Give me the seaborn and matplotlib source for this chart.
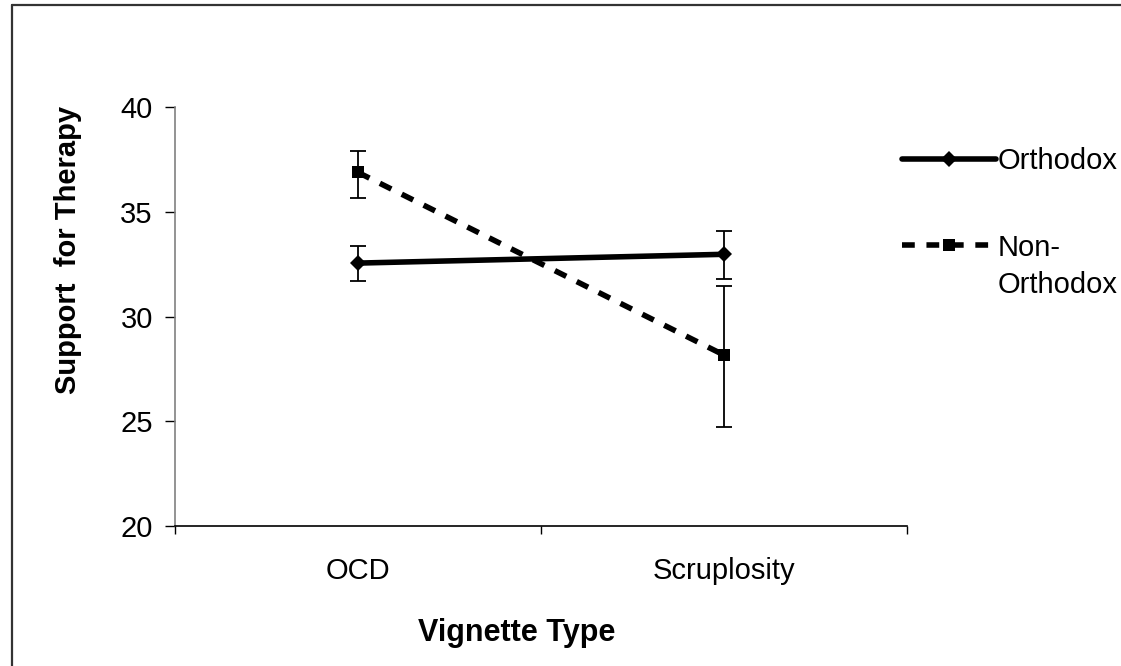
import matplotlib
matplotlib.use("Agg")
import matplotlib.pyplot as plt
from matplotlib.lines import Line2D
import seaborn as sns
import pandas as pd

# ---- data ----
vignettes = ["OCD", "Scruplosity"]
groups = ["Orthodox", "Non-Orthodox"]
orthodox_mean = [32.55, 32.97]
orthodox_low = [31.70, 31.78]
orthodox_high = [33.37, 34.10]
nonorth_mean = [36.88, 28.16]
nonorth_low = [35.68, 24.72]
nonorth_high = [37.88, 31.47]
y_ticks = [20, 25, 30, 35, 40]

df = pd.DataFrame({
    "Vignette": vignettes * 2,
    "Group": [groups[0]] * 2 + [groups[1]] * 2,
    "Support": orthodox_mean + nonorth_mean,
})

sns.set_style("white")
plt.rcParams["font.family"] = ["Liberation Sans", "DejaVu Sans"]
plt.rcParams["text.color"] = "black"
plt.rcParams["axes.labelcolor"] = "black"
plt.rcParams["xtick.color"] = "black"
plt.rcParams["ytick.color"] = "black"

FS = 21

fig = plt.figure(figsize=(11.21, 6.66), dpi=100)
ax = fig.add_axes([0.1561, 0.2102, 0.6530, 0.6291])

sns.lineplot(
    data=df, x="Vignette", y="Support", hue="Group", style="Group",
    palette={"Orthodox": "black", "Non-Orthodox": "black"},
    markers={"Orthodox": "D", "Non-Orthodox": "s"},
    dashes={"Orthodox": "", "Non-Orthodox": (2.3, 2.1)},
    linewidth=4, markersize=8, markeredgewidth=0,
    ax=ax, legend=False, sort=False,
)

# error bars
for mean, low, high in [(orthodox_mean, orthodox_low, orthodox_high),
                        (nonorth_mean, nonorth_low, nonorth_high)]:
    yerr = [[m - l for m, l in zip(mean, low)], [h - m for m, h in zip(mean, high)]]
    ax.errorbar(vignettes, mean, yerr=yerr, fmt="none", ecolor="black",
                elinewidth=1.3, capsize=6, capthick=1.3, zorder=1)

ax.set_xlim(-0.5, 1.5)
ax.set_ylim(20, 40)
ax.set_yticks(y_ticks)
ax.set_xticks([0, 1])
ax.set_xticks([-0.5, 0.5, 1.5], minor=True)
ax.tick_params(axis="x", which="major", length=0, pad=22, labelsize=FS)
ax.tick_params(axis="x", which="minor", length=6, width=1, direction="out", bottom=True)
ax.tick_params(axis="y", which="major", length=7, width=1,
               direction="out", pad=9, labelsize=FS, left=True)

for s in ["top", "right"]:
    ax.spines[s].set_visible(False)
ax.spines["left"].set_color("#808080")
ax.spines["left"].set_linewidth(1.2)
ax.spines["bottom"].set_color("black")
ax.spines["bottom"].set_linewidth(1.2)

ax.set_ylabel("Support  for Therapy", fontsize=FS, fontweight="bold")
ax.yaxis.set_label_coords(-0.127, 0.659)
ax.set_xlabel("Vignette Type", fontsize=22, fontweight="bold")
ax.xaxis.set_label_coords(0.467, -0.22)

# legend
handles = [
    Line2D([], [], color="black", lw=4, marker="D", markersize=8, markeredgewidth=0),
    Line2D([], [], color="black", lw=4, marker="s", markersize=9, markeredgewidth=0,
           dashes=(2.3, 2.1)),
]
fig.legend(handles, ["Orthodox", "Non-"], loc="upper left",
           bbox_to_anchor=(0.805, 0.779), frameon=False, fontsize=FS,
           handlelength=3.2, handletextpad=0.05, labelspacing=2.0,
           borderpad=0, borderaxespad=0)
fig.text(0.8895, 1 - 285 / 666, "Orthodox", fontsize=FS, ha="left", va="center")

# figure border (top and left visible)
fig.add_artist(Line2D([0.011, 0.011], [0.0, 0.9925], transform=fig.transFigure,
                      color="#333333", lw=1.6))
fig.add_artist(Line2D([0.011, 1.0], [0.9925, 0.9925], transform=fig.transFigure,
                      color="#333333", lw=1.6))

fig.savefig("out.png", dpi=100)
